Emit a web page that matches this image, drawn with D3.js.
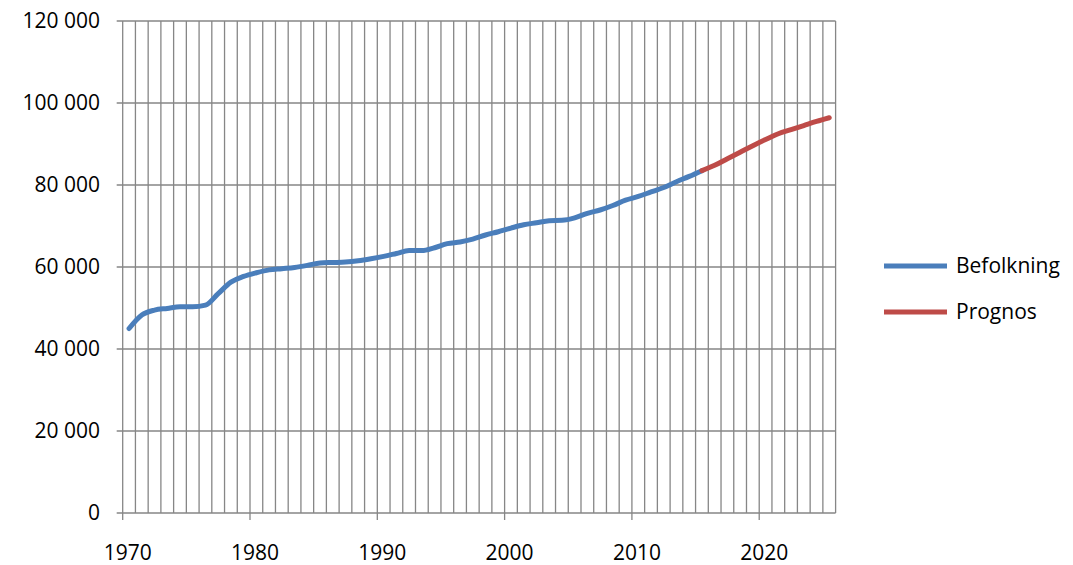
<!DOCTYPE html>
<html><head><meta charset="utf-8">
<script src="https://cdn.jsdelivr.net/npm/d3@7"></script>
<style>body{margin:0;background:#fff}text{font-family:"Open Sans","Noto Sans",sans-serif;font-size:21px;fill:#000}</style>
</head><body><svg id="c" width="1073" height="565"></svg>
<script>
const years = d3.range(1970, 2026);
const befolkningYears = d3.range(1970, 2016);
const befolkning = [45000,48300,49500,49900,50300,50300,50700,53500,56300,57700,58600,59300,59600,59900,60400,61000,61100,61200,61500,62000,62600,63300,64000,64000,64700,65700,66100,66800,67800,68600,69500,70300,70800,71300,71400,72000,73100,73900,75000,76300,77200,78300,79400,80800,82100,83500];
const prognosYears = d3.range(2015, 2026);
const prognos = [83500,84800,86400,88000,89600,91100,92500,93500,94500,95500,96400];
const yTicks = [0,20000,40000,60000,80000,100000,120000];
const xTickYears = [1970,1980,1990,2000,2010,2020];

const svg = d3.select("#c");
const L=122.7, R=835.6, T=21, B=513;
const x = d3.scaleLinear().domain([1970, 2026]).range([L, R]);
const y = d3.scaleLinear().domain([0, 120000]).range([B, T]);
const grid = "#868686";
const g = svg.append("g");
g.selectAll(".vg").data(d3.range(1970, 2027)).join("line")
  .attr("x1", d=>x(d)).attr("x2", d=>x(d)).attr("y1", T).attr("y2", B)
  .attr("stroke", grid).attr("stroke-width", 1.3);
g.selectAll(".hg").data(yTicks).join("line")
  .attr("x1", L-6).attr("x2", R).attr("y1", d=>y(d)).attr("y2", d=>y(d))
  .attr("stroke", grid).attr("stroke-width", 1.3);
g.selectAll(".xt").data(xTickYears).join("line")
  .attr("x1", d=>x(d)).attr("x2", d=>x(d)).attr("y1", B).attr("y2", B+7)
  .attr("stroke", grid).attr("stroke-width", 1.3);
const fmt = v => d3.format(",")(v).replace(/,/g, "\u00a0");
g.selectAll(".yl").data(yTicks).join("text")
  .attr("x", 100).attr("y", d=>y(d)+7).attr("text-anchor","end").text(fmt);
g.selectAll(".xl").data(xTickYears).join("text")
  .attr("x", d=>x(d)+5).attr("y", 560).attr("text-anchor","middle").text(d=>d);

const line = d3.line().x(d=>x(d[0]+0.5)).y(d=>y(d[1])).curve(d3.curveMonotoneX);
svg.append("path").datum(befolkningYears.map((yr,i)=>[yr,befolkning[i]]))
  .attr("d", line).attr("fill","none").attr("stroke","#4a7ebb").attr("stroke-width",5).attr("stroke-linecap","round");
svg.append("path").datum(prognosYears.map((yr,i)=>[yr,prognos[i]]))
  .attr("d", line).attr("fill","none").attr("stroke","#be4b48").attr("stroke-width",5).attr("stroke-linecap","round");

const leg = [["Befolkning","#4a7ebb",266],["Prognos","#be4b48",312]];
leg.forEach(([t,c,yy])=>{
  svg.append("line").attr("x1",884).attr("x2",947).attr("y1",yy).attr("y2",yy).attr("stroke",c).attr("stroke-width",5);
  svg.append("text").attr("x",956).attr("y",yy+7).text(t);
});
</script></body></html>
